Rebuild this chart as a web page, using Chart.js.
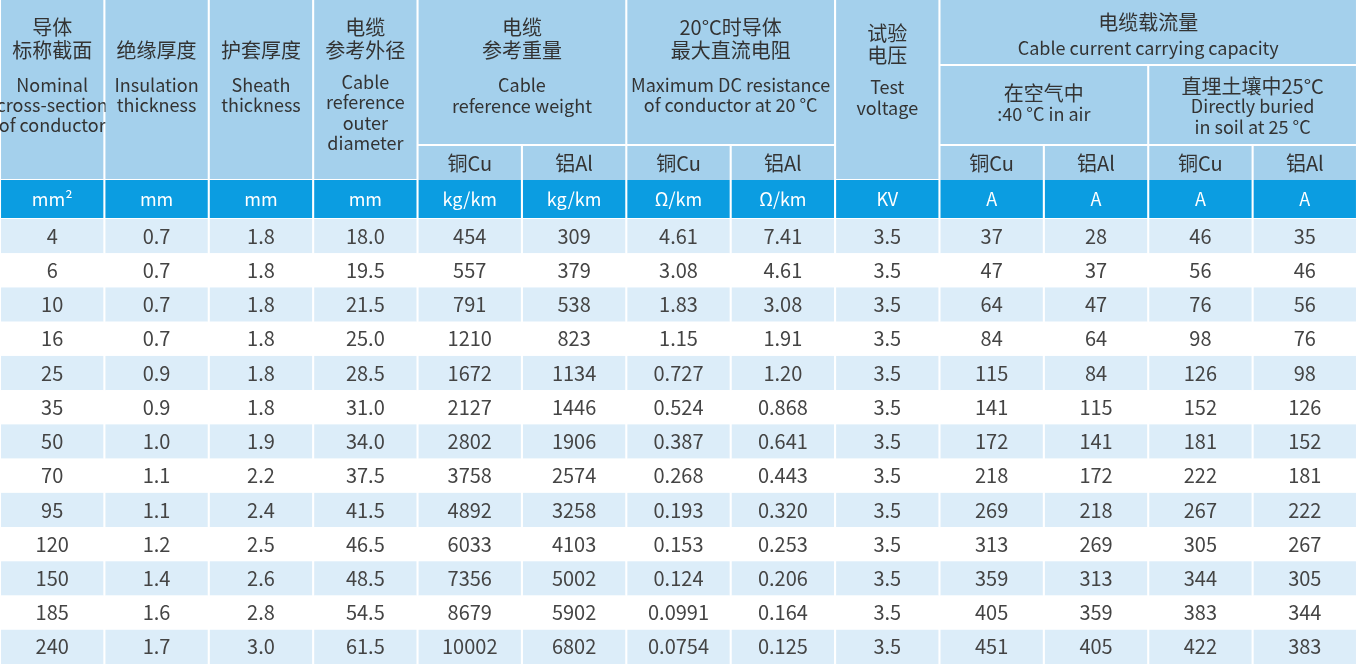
<!DOCTYPE html>
<html>
<head>
<meta charset="utf-8">
<script src="https://cdn.jsdelivr.net/npm/chart.js@4.4.0/dist/chart.umd.min.js"></script>
<style>
  body { margin: 0; background: #fff; }
  #wrap { width: 1357px; height: 664px; }
</style>
</head>
<body>
<div id="wrap"><canvas id="myChart" width="1357" height="664"></canvas></div>
<script>
// Données du tableau (une liste par colonne)
var sizes      = ['4','6','10','16','25','35','50','70','95','120','150','185','240'];
var insulation = ['0.7','0.7','0.7','0.7','0.9','0.9','1.0','1.1','1.1','1.2','1.4','1.6','1.7'];
var sheath     = ['1.8','1.8','1.8','1.8','1.8','1.8','1.9','2.2','2.4','2.5','2.6','2.8','3.0'];
var diameter   = ['18.0','19.5','21.5','25.0','28.5','31.0','34.0','37.5','41.5','46.5','48.5','54.5','61.5'];
var weightCu   = ['454','557','791','1210','1672','2127','2802','3758','4892','6033','7356','8679','10002'];
var weightAl   = ['309','379','538','823','1134','1446','1906','2574','3258','4103','5002','5902','6802'];
var resCu      = ['4.61','3.08','1.83','1.15','0.727','0.524','0.387','0.268','0.193','0.153','0.124','0.0991','0.0754'];
var resAl      = ['7.41','4.61','3.08','1.91','1.20','0.868','0.641','0.443','0.320','0.253','0.206','0.164','0.125'];
var voltage    = ['3.5','3.5','3.5','3.5','3.5','3.5','3.5','3.5','3.5','3.5','3.5','3.5','3.5'];
var airCu      = ['37','47','64','84','115','141','172','218','269','313','359','405','451'];
var airAl      = ['28','37','47','64','84','115','141','172','218','269','313','359','405'];
var soilCu     = ['46','56','76','98','126','152','181','222','267','305','344','383','422'];
var soilAl     = ['35','46','56','76','98','126','152','181','222','267','305','344','383'];
var units      = ['mm²','mm','mm','mm','kg/km','kg/km','Ω/km','Ω/km','KV','A','A','A','A'];

var columns = [sizes, insulation, sheath, diameter, weightCu, weightAl, resCu, resAl, voltage, airCu, airAl, soilCu, soilAl];

// En-têtes : colonne de départ, largeur, haut, bas, lignes [texte, y]
var headers = [
    { c: 0, span: 1, top: 0, bottom: 180, lines: [['导体',27,'zh'],['标称截面',50,'zh'],['Nominal',85],['cross-section',105],['of conductor',125]] },
    { c: 1, span: 1, top: 0, bottom: 180, lines: [['绝缘厚度',50,'zh'],['Insulation',85],['thickness',105]] },
    { c: 2, span: 1, top: 0, bottom: 180, lines: [['护套厚度',50,'zh'],['Sheath',85],['thickness',105]] },
    { c: 3, span: 1, top: 0, bottom: 180, lines: [['电缆',27,'zh'],['参考外径',50,'zh'],['Cable',82],['reference',102],['outer',123],['diameter',143]] },
    { c: 4, span: 2, top: 0, bottom: 145, lines: [['电缆',27,'zh'],['参考重量',50,'zh'],['Cable',85],['reference weight',106]] },
    { c: 6, span: 2, top: 0, bottom: 145, lines: [['20°C时导体',27,'zh'],['最大直流电阻',50,'zh'],['Maximum DC resistance',85],['of conductor at 20 °C',105]] },
    { c: 8, span: 1, top: 0, bottom: 180, lines: [['试验',33,'zh'],['电压',55,'zh'],['Test',87],['voltage',108]] },
    { c: 9, span: 4, top: 0, bottom: 65, lines: [['电缆载流量',22,'zh'],['Cable current carrying capacity',48]] },
    { c: 9, span: 2, top: 65, bottom: 145, lines: [['在空气中',93,'zh'],[':40 °C in air',114]] },
    { c: 11, span: 2, top: 65, bottom: 145, lines: [['直埋土壤中25°C',86,'zh'],['Directly buried',106],['in soil at 25 °C',127]] }
];
var subHeaders = [[4,'铜Cu'],[5,'铝Al'],[6,'铜Cu'],[7,'铝Al'],[9,'铜Cu'],[10,'铝Al'],[11,'铜Cu'],[12,'铝Al']];

var HEAD_BOTTOM = 180, UNIT_BOTTOM = 218, TOTAL = 664;
var rowH = (TOTAL - UNIT_BOTTOM - 1) / sizes.length;

var FONT = "'Noto Sans CJK SC', 'Noto Sans', sans-serif";

// Plugin qui dessine le tableau à partir des échelles du graphique
var tablePlugin = {
    id: 'tablePlugin',
    beforeDatasetsDraw: function (chart) {
        var ctx = chart.ctx;
        var x = chart.scales.x, y = chart.scales.y;
        function rect(c0, c1, t, b, color) {
            var l = x.getPixelForValue(c0), r = x.getPixelForValue(c1);
            var tp = y.getPixelForValue(t), bt = y.getPixelForValue(b);
            ctx.fillStyle = color;
            ctx.fillRect(l, tp, r - l, bt - tp);
        }
        function text(str, cx, cy, size, color) {
            ctx.fillStyle = color;
            ctx.font = size + 'px ' + FONT;
            ctx.textAlign = 'center';
            ctx.textBaseline = 'middle';
            ctx.fillText(str, x.getPixelForValue(cx), y.getPixelForValue(cy));
        }
        ctx.save();
        rect(0, 13, 0, TOTAL, '#ffffff');
        var gap = 0.01;
        // en-têtes
        headers.forEach(function (h) {
            rect(h.c + gap, h.c + h.span - gap, h.top + (h.top ? 1 : 0), h.bottom - 1, '#a4d0ec');
            h.lines.forEach(function (ln) {
                text(ln[0], h.c + h.span / 2, ln[1], ln[2] ? 20 : 18, '#333333');
            });
        });
        subHeaders.forEach(function (s) {
            rect(s[0] + gap, s[0] + 1 - gap, 146, HEAD_BOTTOM, '#a4d0ec');
            text(s[1], s[0] + 0.5, 163, 20, '#333333');
        });
        // unités
        for (var c = 0; c < 13; c++) {
            rect(c + gap, c + 1 - gap, HEAD_BOTTOM, UNIT_BOTTOM, '#0b9de1');
            text(units[c], c + 0.5, 199, 18, '#ffffff');
        }
        // lignes de données
        for (var i = 0; i < sizes.length; i++) {
            var t = UNIT_BOTTOM + 1 + i * rowH;
            for (var c2 = 0; c2 < 13; c2++) {
                rect(c2 + gap, c2 + 1 - gap, t, t + rowH, i % 2 === 0 ? '#dcedf9' : '#ffffff');
                text(columns[c2][i], c2 + 0.5, t + rowH / 2, 20, '#444444');
            }
        }
        ctx.restore();
    }
};

var ctx = document.getElementById('myChart').getContext('2d');
var myChart = new Chart(ctx, {
    type: 'scatter',
    data: { datasets: [{ data: [], pointRadius: 0 }] },
    options: {
        responsive: false,
        animation: false,
        layout: { padding: 0 },
        plugins: { legend: { display: false }, tooltip: { enabled: false } },
        scales: {
            x: { type: 'linear', min: 0, max: 13, display: false },
            y: { type: 'linear', min: 0, max: TOTAL, reverse: true, display: false }
        }
    },
    plugins: [tablePlugin]
});
</script>
</body>
</html>
